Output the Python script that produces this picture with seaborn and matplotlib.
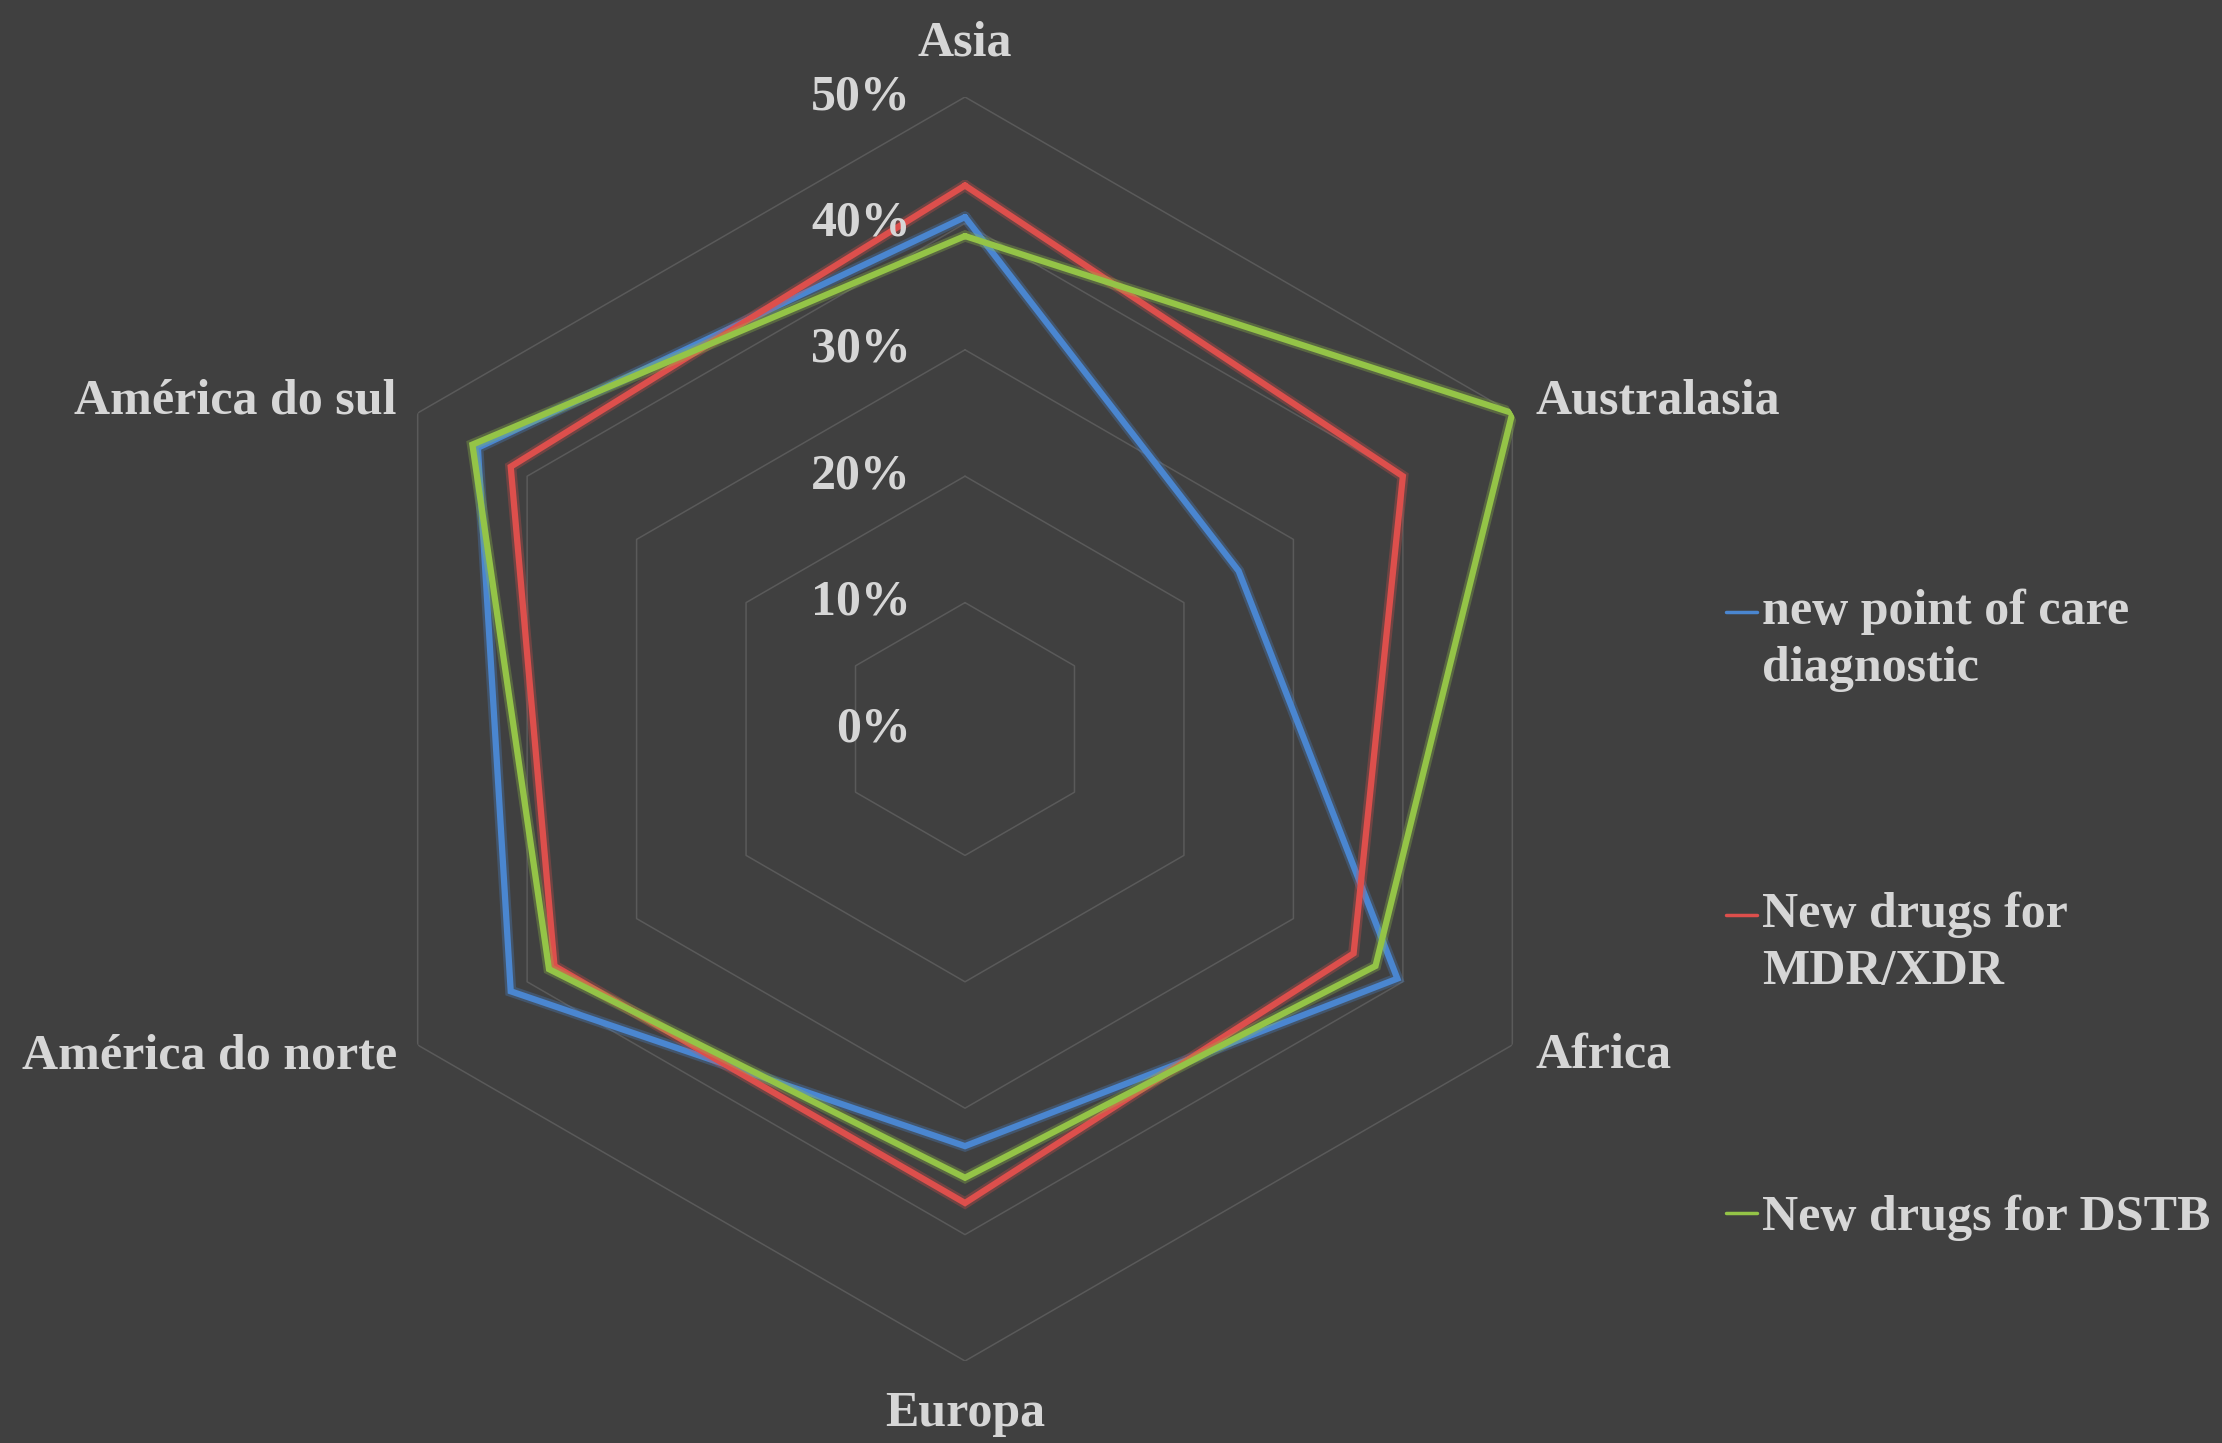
import numpy as np
import pandas as pd
import matplotlib
matplotlib.use("Agg")
import matplotlib.pyplot as plt
import matplotlib.patheffects as pe
from matplotlib.lines import Line2D
from matplotlib.legend_handler import HandlerLine2D
import seaborn as sns

# ------------------------------
# Data (percent, clockwise from top)
# ------------------------------
regions = ["Asia", "Australasia", "Africa", "Europa", "América do norte", "América do sul"]
diagnostic = [40.5, 25.0, 39.5, 33.0, 41.5, 44.5]
mdr_xdr = [43.0, 40.0, 35.5, 37.5, 37.5, 41.5]
dstb = [39.0, 50.0, 37.5, 35.5, 38.0, 45.0]

series_names = ["new point of care\ndiagnostic", "New drugs for\nMDR/XDR", "New drugs for DSTB"]
series_values = [diagnostic, mdr_xdr, dstb]
ring_ticks = [0, 10, 20, 30, 40, 50]

colors = ["#4a86d0", "#dd4f4c", "#94c447"]
bg = "#404040"
txt = "#d6d6d6"
grid_col = "#5a5a5a"

# ------------------------------
# Long-form table for seaborn (close each polygon)
# ------------------------------
angles = np.linspace(0, 2 * np.pi, len(regions), endpoint=False)
rows = []
for name, vals in zip(series_names, series_values):
    for i in list(range(len(regions))) + [0]:
        rows.append({"theta": angles[i], "value": vals[i], "series": name, "order": len(rows)})
df = pd.DataFrame(rows)
# last point of each loop goes to 2*pi so the line closes cleanly
df.loc[df.groupby("series")["order"].idxmax(), "theta"] = 2 * np.pi

sns.set_style("dark", {"axes.facecolor": bg, "figure.facecolor": bg})
plt.rcParams["font.family"] = ["Liberation Serif", "DejaVu Serif"]
plt.rcParams["font.weight"] = "bold"

fig = plt.figure(figsize=(22.22, 14.43), dpi=100, facecolor=bg)
W, H = 2222, 1443
cx, cy, R = 965, 729, 632
ax = fig.add_axes([(cx - R) / W, (H - cy - R) / H, 2 * R / W, 2 * R / H], projection="polar")
ax.set_facecolor(bg)
ax.set_theta_zero_location("N")
ax.set_theta_direction(-1)
ax.set_ylim(0, 50)
ax.grid(False)
ax.spines["polar"].set_visible(False)
ax.set_xticks([])
ax.set_yticks([])

# hexagonal grid rings
ring_theta = np.append(angles, 2 * np.pi)
for r in ring_ticks[1:]:
    ax.plot(ring_theta, [r] * len(ring_theta), color=grid_col, lw=1.1, zorder=1)

n_before = len(ax.lines)
sns.lineplot(data=df, x="theta", y="value", hue="series", palette=colors,
             hue_order=series_names, sort=False, estimator=None, units="series",
             ax=ax, legend=False, linewidth=3.0, zorder=3)
for ln in ax.lines[n_before:]:
    c = ln.get_color()
    ln.set_path_effects([pe.Stroke(linewidth=8, foreground=c, alpha=0.3),
                         pe.Stroke(linewidth=4.5, foreground=c),
                         pe.Normal()])
    ln.set_solid_joinstyle("miter")
ax.set_xlabel("")
ax.set_ylabel("")
ax.set_ylim(0, 50)

# percent labels along the top axis
for r in ring_ticks:
    ax.annotate(f"{r}%", xy=(0, r), xytext=(-54, 0), textcoords="offset pixels",
                ha="right", va="center", fontsize=36, fontweight="bold", color=txt)

# category labels
label_offsets = [(0, 54, "center"), (23, 12, "left"), (23, -11, "left"),
                 (0, -53, "center"), (-21, -11, "right"), (-21, 12, "right")]
for ang, name, (dx, dy, ha) in zip(angles, regions, label_offsets):
    ax.annotate(name, xy=(ang, 50), xytext=(dx, dy), textcoords="offset pixels",
                ha=ha, va="center", fontsize=36, fontweight="bold", color=txt,
                annotation_clip=False)


# legend: handle sits on the first text line, Excel style
class TopLine(HandlerLine2D):
    def __init__(self, shift=0, **kw):
        super().__init__(**kw)
        self.shift = shift

    def create_artists(self, legend, orig_handle, xdescent, ydescent, width, height,
                       fontsize, trans):
        return super().create_artists(legend, orig_handle, xdescent, ydescent - self.shift,
                                      width, height, fontsize, trans)


handles = [Line2D([0], [0], color=c, lw=2.5) for c in colors]
hmap = {h: TopLine(shift=40 if "\n" in n else 0) for h, n in zip(handles, series_names)}
leg = fig.legend(handles, series_names, loc="center left", handler_map=hmap,
                 bbox_to_anchor=(1726 / W, 1 - 915 / H), frameon=False,
                 fontsize=36, handlelength=0.62, handletextpad=0.1,
                 labelspacing=4.0, borderpad=0, borderaxespad=0)
for t in leg.get_texts():
    t.set_color(txt)
    t.set_fontweight("bold")
    t.set_linespacing(1.3)

fig.savefig("out.png", dpi=100, facecolor=bg)
